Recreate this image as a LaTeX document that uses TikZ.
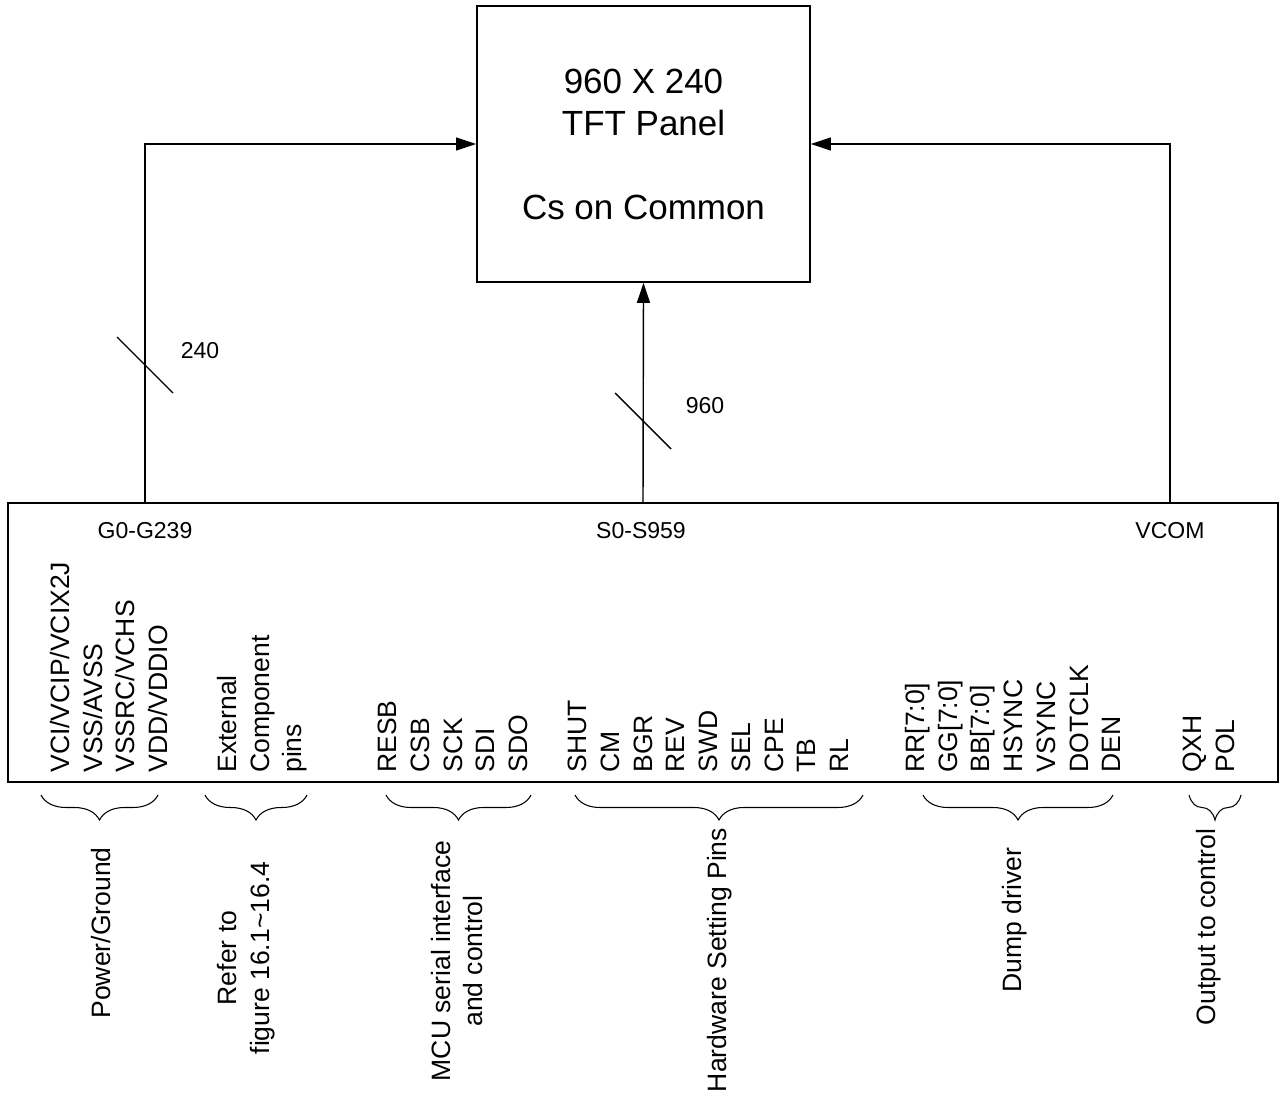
\documentclass[tikz,border=0pt]{standalone}
\usepackage{fontspec}
\setmainfont{Liberation Sans}
\usetikzlibrary{arrows.meta, positioning, decorations.pathreplacing}

\begin{document}
\begin{tikzpicture}[
            x=0.2mm, y=-0.2mm,
            line/.style={draw, line width=0.8pt, -{Triangle[length=0.4cm,width=0.26cm]}},
            box/.style={draw, line width=1pt, inner sep=0pt},
            pins/.style={font=\fontsize{15.1}{18.6}\selectfont, rotate=90, align=left, inner sep=0pt, anchor=north west},
            grouplabel/.style={font=\fontsize{15.1}{18.6}\selectfont, rotate=90, align=center, inner sep=0pt},
            bus/.style={font=\fontsize{13.1}{15.7}\selectfont, inner sep=0pt},
            grpbrace/.style={decorate, decoration={brace, mirror, amplitude=0.5cm}, line width=0.6pt}
        ]
        \useasboundingbox (0,0) rectangle (1281,1093);
        
        % --- Panel and driver ---
        \node[box, minimum width=6.66cm, minimum height=5.52cm, align=center, font=\fontsize{19.9}{23.9}\selectfont] (panel) at (643.5,144) {960 X 240\\TFT Panel\\[23.9pt]Cs on Common};
        \node[box, minimum width=25.4cm, minimum height=5.58cm] (ic) at (643,642.5) {};
        
        % --- Output names ---
        \node[bus] (gate) at (145,531) {G0-G239};
        \node[bus] (source) at (641,531) {S0-S959};
        \node[bus] (vcom) at (1170,531) {VCOM};
        
        % --- Flows ---
        \path[line] (gate |- ic.north) |- (panel.west);
        \path[line] (ic.north) -- (panel.south);
        \path[line] (vcom |- ic.north) |- (panel.east);
        
        % --- Bus widths ---
        \coordinate (gbus) at (145,365);
        \coordinate (sbus) at (643,421);
        \draw[line width=0.8pt] (gbus) ++(-28,-28) -- ++(56,56);
        \draw[line width=0.8pt] (sbus) ++(-28,-28) -- ++(56,56);
        \node[bus] (gwidth) at (200,351) {240};
        \node[bus] (swidth) at (705,406) {960};
        
        % --- Pins ---
        \node[pins] (pwr) at (50,773) {VCI/VCIP/VCIX2J\\VSS/AVSS\\VSSRC/VCHS\\VDD/VDDIO};
        \node[pins] (ext) at (217,773) {External\\Component\\pins};
        \node[pins] (mcu) at (378,773) {RESB\\CSB\\SCK\\SDI\\SDO};
        \node[pins] (hw) at (568,773) {SHUT\\CM\\BGR\\REV\\SWD\\SEL\\CPE\\TB\\RL};
        \node[pins] (rgb) at (905,773) {RR[7:0]\\GG[7:0]\\BB[7:0]\\HSYNC\\VSYNC\\DOTCLK\\DEN};
        \node[pins] (outp) at (1183,773) {QXH\\POL};
        
        % --- Groups ---
        \foreach \a/\b in {41/158, 205/307, 386/531, 575/863, 923/1113, 1189/1241}
            \draw[grpbrace] (\a,795) -- (\b,795);
        
        \node[grouplabel] (pwrnote) at (101,933) {Power/Ground};
        \node[grouplabel] (extnote) at (246,958) {Refer to\\figure 16.1\textasciitilde16.4};
        \node[grouplabel] (mcunote) at (457,961) {MCU serial interface\\and control};
        \node[grouplabel] (hwnote) at (720,960) {Hardware Setting Pins};
        \node[grouplabel] (rgbnote) at (1015,920) {Dump driver};
        \node[grouplabel] (outnote) at (1209,927) {Output to control};
        
        \end{tikzpicture}
\end{document}
